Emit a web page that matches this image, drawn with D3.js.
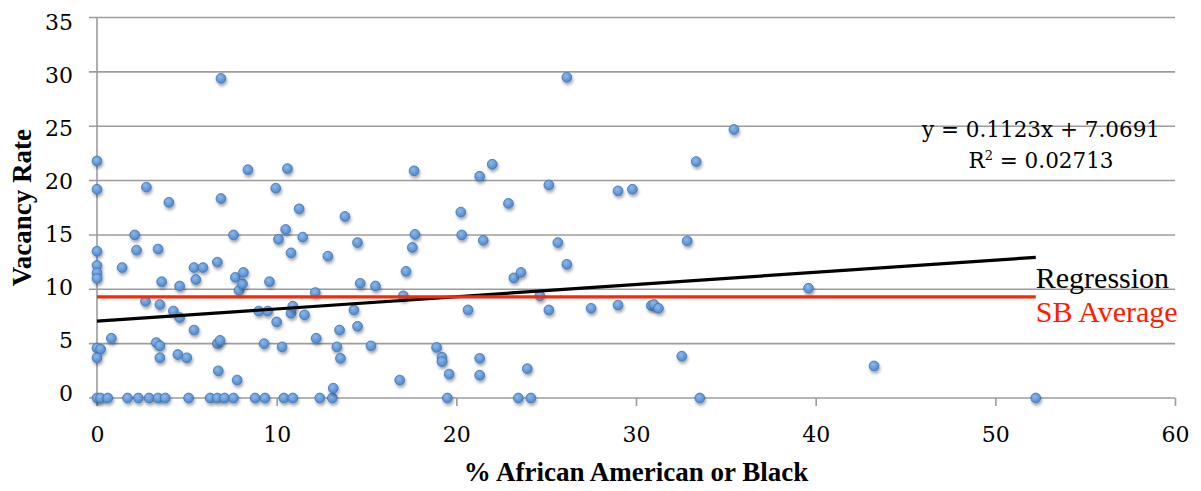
<!DOCTYPE html>
<html>
<head>
<meta charset="utf-8">
<script src="https://cdn.jsdelivr.net/npm/d3@7"></script>
<style>
  body { margin: 0; background: #fff; }
  svg { display: block; }
</style>
</head>
<body>
<script>
// % African American or Black (x) for each tract
const pctBlack = [0, 0, 0, 0, 0, 0, 0, 0.2, 0, 0, 0.2, 0.6,
  0.8, 1.4, 1.7, 2.1, 2.2, 2.3, 2.7, 2.75, 2.9, 3.3,
  3.4, 3.4, 3.5, 3.5, 3.5, 3.6, 3.8, 4.0, 4.25, 4.5,
  4.6, 4.6, 5.0, 5.1, 5.4, 5.4, 5.5, 5.9, 6.3, 6.7,
  6.7, 6.7, 6.75, 6.85, 6.9, 6.9, 7.1, 7.6, 7.6, 7.7,
  7.8, 7.9, 8.1, 8.15, 8.4, 8.8, 9.0, 9.3, 9.35, 9.5,
  9.6, 9.95, 10.0, 10.1, 10.3, 10.4, 10.5, 10.6, 10.8, 10.8,
  10.9, 10.9, 11.25, 11.45, 11.55, 12.15, 12.2, 12.4, 12.85, 13.1,
  13.15, 13.35, 13.5, 13.55, 13.8, 14.3, 14.5, 14.5, 14.65, 15.25,
  15.5, 16.85, 17.05, 17.2, 17.55, 17.65, 17.7, 18.9, 19.2, 19.2,
  19.5, 19.6, 20.25, 20.3, 20.65, 21.3, 21.3, 21.3, 21.5, 22.0,
  22.9, 23.2, 23.45, 23.6, 23.95, 24.15, 24.65, 25.15, 25.15, 25.65,
  26.15, 26.15, 27.5, 29.0, 29.0, 29.8, 30.85, 31.0, 31.25, 32.55,
  32.85, 33.35, 33.55, 35.45, 39.6, 43.25, 52.25];

// vacancy rate (y), same order as pctBlack
const vacancy = [21.8, 19.2, 13.5, 12.2, 11.5, 11.0, 4.6, 4.5, 3.7, 0, 0, 0,
  5.5, 12.0, 0, 15.0, 13.6, 0, 8.9, 19.4, 0, 5.1,
  13.7, 0, 8.6, 4.8, 3.7, 10.7, 0, 18.0, 8.0, 4.0,
  10.3, 7.4, 3.7, 0, 6.25, 12.0, 10.9, 12.0, 0, 12.5,
  5.0, 0, 2.5, 5.3, 18.35, 29.4, 0, 15.0, 0, 11.1,
  1.65, 9.9, 10.5, 11.55, 21.0, 0, 8.0, 5.0, 0, 8.0,
  10.7, 19.3, 7.0, 14.6, 4.7, 0, 15.5, 21.1, 13.35, 7.8,
  0, 8.45, 17.4, 14.8, 7.65, 9.7, 5.5, 0, 13.05, 0,
  0.9, 4.7, 6.25, 3.65, 16.7, 8.1, 14.3, 6.6, 10.55, 4.8,
  10.3, 1.65, 9.4, 11.65, 13.85, 20.9, 15.05, 4.65, 3.75, 3.35,
  0, 2.2, 17.1, 15.0, 8.1, 20.4, 3.65, 2.1, 14.5, 21.5,
  17.9, 11.05, 0, 11.55, 2.7, 0, 9.4, 19.6, 8.1, 14.3,
  12.3, 29.5, 8.25, 19.05, 8.55, 19.2, 8.5, 8.6, 8.25, 3.85,
  14.45, 21.75, 0, 24.7, 10.1, 2.95, 0];

// tick values
const xTicks = [0, 10, 20, 30, 40, 50, 60];
const yTicks = [0, 5, 10, 15, 20, 25, 30, 35];

// regression (from the chart's trendline label) and Santa Barbara average
const slope = 0.1123;
const intercept = 7.0691;
const rSquared = "0.02713";
const sbAverage = 9.3;
const lineExtent = [0, 52.25];

// ----------------------------------------------------------- //

var width = 1201;
var height = 491;

var plotLeft = 97, plotRight = 1175, plotTop = 17.5, plotBottom = 398;
var gridColor = "#9c9c9c";

var xScale = d3.scaleLinear().domain([0, 60]).range([plotLeft, plotRight]);
var yScale = d3.scaleLinear().domain([0, 35]).range([plotBottom, plotTop]);
// y labels sit a little off the gridlines in the original
var yLabelScale = d3.scaleLinear().domain([0, 35]).range([400.5, 29.3]);

var svg = d3.select("body").append("svg")
    .attr("width", width)
    .attr("height", height);

// marker look: gradient + soft shadow
var defs = svg.append("defs");
var grad = defs.append("radialGradient").attr("id", "dotFill")
    .attr("cx", "40%").attr("cy", "35%").attr("r", "65%");
grad.append("stop").attr("offset", "0%").attr("stop-color", "#8db8ea");
grad.append("stop").attr("offset", "100%").attr("stop-color", "#4f88cc");

var shadow = defs.append("filter").attr("id", "dotShadow")
    .attr("x", "-50%").attr("y", "-50%").attr("width", "200%").attr("height", "200%");
shadow.append("feDropShadow")
    .attr("dx", 1).attr("dy", 2.5).attr("stdDeviation", 1.6)
    .attr("flood-color", "#000").attr("flood-opacity", 0.35);

// ----------------------------------------------------------- //

// horizontal gridlines (with short tick stubs to the left of the axis)
svg.append("g")
  .selectAll("line")
  .data(yTicks)
  .enter()
  .append("line")
    .attr("x1", plotLeft - 8)
    .attr("x2", plotRight)
    .attr("y1", d => yScale(d))
    .attr("y2", d => yScale(d))
    .attr("stroke", gridColor)
    .attr("stroke-width", 1.6);

// y tick labels
var yAxis = svg.append("g")
    .attr("transform", `translate(${plotLeft - 8},0)`)
    .call(d3.axisLeft(yScale)
      .tickValues(yTicks)
      .tickSize(0)
      .tickPadding(16));

yAxis.select(".domain").remove();
yAxis.selectAll(".tick line").remove();
yAxis.selectAll(".tick text")
    .attr("font-family", "'DejaVu Serif', serif")
    .attr("font-size", 22)
    .attr("fill", "#000")
    .attr("dy", 0)
    .attr("y", d => yLabelScale(d) - yScale(d));

// x axis tick marks + labels
var xAxis = svg.append("g")
    .attr("transform", `translate(0,${plotBottom})`)
    .call(d3.axisBottom(xScale)
      .tickValues(xTicks)
      .tickSizeInner(8)
      .tickSizeOuter(0));

xAxis.select(".domain").remove();
xAxis.selectAll(".tick line")
    .attr("stroke", gridColor)
    .attr("stroke-width", 1.6);
xAxis.selectAll(".tick text")
    .attr("font-family", "'DejaVu Serif', serif")
    .attr("font-size", 22)
    .attr("fill", "#000")
    .attr("dy", 0)
    .attr("y", 44);

// vertical axis line
svg.append("line")
    .attr("x1", plotLeft).attr("x2", plotLeft)
    .attr("y1", plotTop).attr("y2", plotBottom + 8)
    .attr("stroke", gridColor)
    .attr("stroke-width", 1.6);

// ----------------------------------------------------------- //

// scatter points
var points = pctBlack.map((x, i) => ({ x: x, y: vacancy[i] }));

svg.append("g")
  .selectAll("circle")
  .data(points)
  .enter()
  .append("circle")
    .attr("cx", d => xScale(d.x))
    .attr("cy", d => yScale(d.y))
    .attr("r", 4.9)
    .attr("fill", "url(#dotFill)")
    .attr("stroke", "#3e74b6")
    .attr("stroke-width", 0.8)
    .attr("filter", "url(#dotShadow)");

// regression line (black) and SB average (red)
var line = d3.line()
    .x(d => xScale(d[0]))
    .y(d => yScale(d[1]));

svg.append("path")
    .datum(lineExtent.map(x => [x, intercept + slope * x]))
    .attr("d", line)
    .attr("fill", "none")
    .attr("stroke", "#000")
    .attr("stroke-width", 3.2);

svg.append("path")
    .datum(lineExtent.map(x => [x, sbAverage]))
    .attr("d", line)
    .attr("fill", "none")
    .attr("stroke", "#ff2600")
    .attr("stroke-width", 3.4);

// line labels
svg.append("text")
    .attr("x", xScale(lineExtent[1]))
    .attr("y", 287.5)
    .attr("font-family", "'Liberation Serif', serif")
    .attr("font-size", 30)
    .attr("fill", "#000")
    .text("Regression");

svg.append("text")
    .attr("x", xScale(lineExtent[1]))
    .attr("y", 322)
    .attr("font-family", "'Liberation Serif', serif")
    .attr("font-size", 30)
    .attr("fill", "#ff1a00")
    .text("SB Average");

// trendline equation
var eq = svg.append("g")
    .attr("font-family", "'DejaVu Serif', serif")
    .attr("font-size", 21.5)
    .attr("fill", "#000")
    .attr("text-anchor", "middle");

eq.append("text")
    .attr("x", 1041)
    .attr("y", 136.5)
    .text(`y = ${slope}x + ${intercept}`);

var r2 = eq.append("text")
    .attr("x", 1041)
    .attr("y", 167.5);
r2.append("tspan").text("R");
r2.append("tspan").attr("font-size", 13).attr("dy", -8).text("2");
r2.append("tspan").attr("dy", 8).text(` = ${rSquared}`);

// axis titles
svg.append("text")
    .attr("x", (plotLeft + plotRight) / 2)
    .attr("y", 481)
    .attr("text-anchor", "middle")
    .attr("font-family", "'Liberation Serif', serif")
    .attr("font-weight", "bold")
    .attr("font-size", 27)
    .attr("fill", "#000")
    .text("% African American or Black");

svg.append("text")
    .attr("transform", `translate(31,${(plotTop + plotBottom) / 2}) rotate(-90)`)
    .attr("text-anchor", "middle")
    .attr("font-family", "'Liberation Serif', serif")
    .attr("font-weight", "bold")
    .attr("font-size", 27)
    .attr("fill", "#000")
    .text("Vacancy Rate");
</script>
</body>
</html>
